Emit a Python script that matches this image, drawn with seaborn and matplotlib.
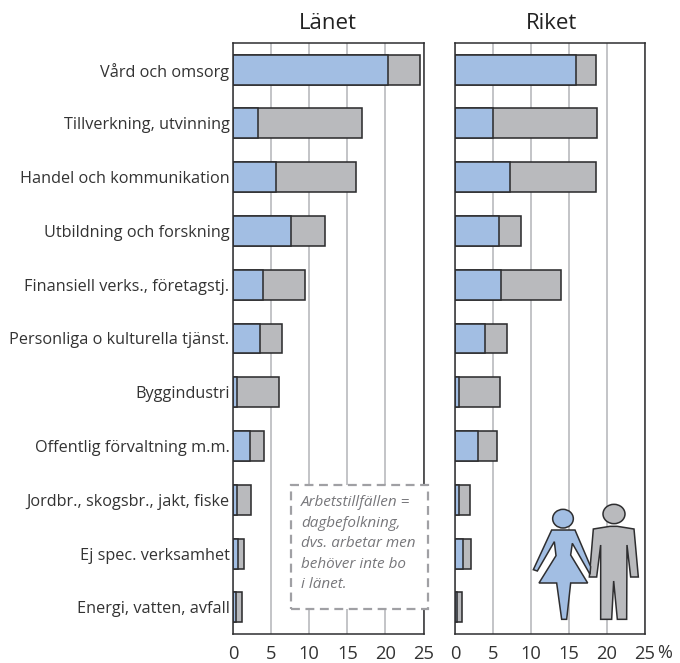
import matplotlib
matplotlib.use("Agg")
import matplotlib.pyplot as plt
import seaborn as sns
from matplotlib.patches import Ellipse, Polygon, Rectangle

# Data
kategorier = ["Vård och omsorg", "Tillverkning, utvinning", "Handel och kommunikation",
              "Utbildning och forskning", "Finansiell verks., företagstj.",
              "Personliga o kulturella tjänst.", "Byggindustri", "Offentlig förvaltning m.m.",
              "Jordbr., skogsbr., jakt, fiske", "Ej spec. verksamhet", "Energi, vatten, avfall"]
lan_kvinnor = [20.4, 3.3, 5.7, 7.55, 3.9, 3.6, 0.5, 2.2, 0.5, 0.65, 0.4]
lan_totalt = [24.5, 16.9, 16.1, 12.1, 9.4, 6.4, 6.0, 4.1, 2.4, 1.4, 1.15]
riket_kvinnor = [16.0, 4.9, 7.2, 5.7, 6.0, 3.9, 0.5, 3.0, 0.5, 1.0, 0.25]
riket_totalt = [18.6, 18.7, 18.6, 8.6, 14.0, 6.8, 5.9, 5.5, 1.9, 2.0, 0.9]
xtiklar = [0, 5, 10, 15, 20, 25]
not_text = "Arbetstillfällen =\ndagbefolkning,\ndvs. arbetar men\nbehöver inte bo\ni länet."

BLA = "#a2bee3"
GRA = "#b9babd"
KANT = "#2e2e30"
W, H = 680, 663

sns.set_style("white")
plt.rcParams["font.family"] = ["Open Sans", "DejaVu Sans"]

fig = plt.figure(figsize=(W / 100, H / 100), dpi=100)


def yta(x0, x1, y0, y1):
    return fig.add_axes([x0 / W, 1 - y1 / H, (x1 - x0) / W, (y1 - y0) / H])


def panel(ax, kvinnor, totalt, titel, titel_x):
    sns.barplot(x=totalt, y=kategorier, color=GRA, saturation=1, width=0.557,
                edgecolor=KANT, linewidth=1.15, ax=ax)
    sns.barplot(x=kvinnor, y=kategorier, color=BLA, saturation=1, width=0.557,
                edgecolor=KANT, linewidth=1.15, ax=ax)
    ax.set_xlim(0, 25)
    ax.set_ylim(10.5, -0.5)
    ax.set_xticks(xtiklar)
    ax.set_axisbelow(True)
    ax.grid(axis="x", color=GRA, linewidth=1.2)
    ax.grid(axis="y", visible=False)
    ax.set_xlabel("")
    ax.set_ylabel("")
    for s in ax.spines.values():
        s.set_visible(True)
        s.set_color(KANT)
        s.set_linewidth(1.1)
    ax.tick_params(axis="x", length=0, pad=7.5, labelsize=13.2, labelcolor="#333333")
    ax.tick_params(axis="y", length=0, pad=2.5, labelsize=11.7, labelcolor="#333333")
    fig.text(titel_x / W, 1 - 29 / H, titel, ha="center", va="baseline", fontsize=16,
             color="#222222")


ax1 = yta(233, 423.5, 42.7, 634.3)
ax2 = yta(455.5, 644.5, 42.7, 634.3)
panel(ax1, lan_kvinnor, lan_totalt, "Länet", 328)
panel(ax2, riket_kvinnor, riket_totalt, "Riket", 552)
ax2.tick_params(axis="y", labelleft=False)

# procenttecken efter sista ticken
fig.text(657 / W, 1 - 658 / H, "%", ha="left", va="baseline", fontsize=13, color="#333333",
         clip_on=False)


# Notruta, ritad i pixlar ovanpa axlarna
def fx(x):
    return x / W


def fy(y):
    return 1 - y / H


fig.add_artist(Rectangle((fx(290.7), fy(608.7)), (427.7 - 290.7) / W, (608.7 - 484.7) / H,
                         transform=fig.transFigure, facecolor="white", edgecolor="#a0a0a4",
                         linewidth=1.6, linestyle=(0, (4, 2.5))))
fig.text(fx(301), fy(495.5), not_text, ha="left", va="top", fontsize=11, style="italic",
         color="#77777b", linespacing=1.49)


# Figurerna (koordinater i zoomad bild, 3x)
def ikon(pts):
    return [(fx(530 + x / 3), fy(495 + y / 3)) for x, y in pts]


kvinna = [(65, 105), (135, 105), (182, 215), (180, 238), (127, 145), (122, 180), (173, 264),
          (122, 264), (110, 373), (95, 373), (80, 264), (27, 264), (78, 182), (73, 140),
          (22, 228), (10, 224)]
man = [(190, 102), (240, 94), (262, 94), (312, 102), (325, 246), (302, 246), (291, 150),
       (290, 373), (262, 373), (251, 258), (245, 373), (212, 373), (212, 150), (200, 246),
       (178, 246)]
for pts, farg in [(man, GRA), (kvinna, BLA)]:
    fig.add_artist(Polygon(ikon(pts), closed=True, transform=fig.transFigure, facecolor=farg,
                           edgecolor=KANT, linewidth=1.1, joinstyle="miter"))
for cx, cy, rx, ry, farg in [(99, 71, 31, 28, BLA), (252, 57, 33, 29, GRA)]:
    fig.add_artist(Ellipse((fx(530 + cx / 3), fy(495 + cy / 3)), 2 * rx / 3 / W, 2 * ry / 3 / H,
                           transform=fig.transFigure, facecolor=farg, edgecolor=KANT,
                           linewidth=1.1))

fig.savefig("out.png", dpi=100)
